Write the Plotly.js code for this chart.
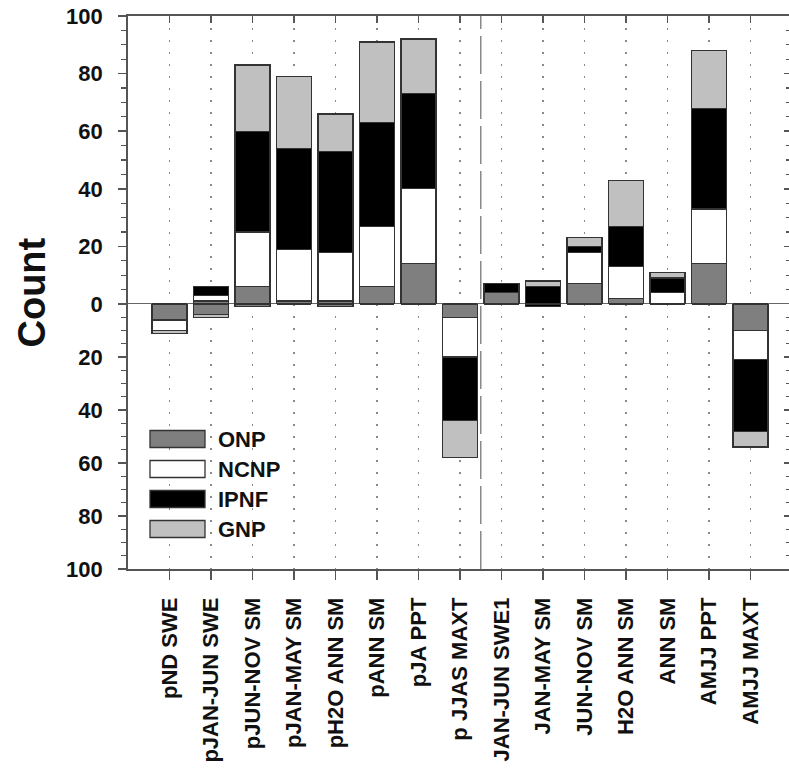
<!DOCTYPE html>
<html>
<head>
<meta charset="utf-8">
<script src="https://cdn.plot.ly/plotly-3.0.1.min.js"></script>
<style>
html,body{margin:0;padding:0;background:#fff;overflow:hidden;}
#chart{width:792px;height:768px;}
</style>
</head>
<body>
<div id="chart"></div>
<script>
// ---- data ----
const categories = ['pND SWE','pJAN-JUN SWE','pJUN-NOV SM','pJAN-MAY SM','pH2O ANN SM','pANN SM','pJA PPT','p JJAS MAXT','JAN-JUN SWE1','JAN-MAY SM','JUN-NOV SM','H2O ANN SM','ANN SM','AMJJ PPT','AMJJ MAXT'];
const seriesNames = ['ONP','NCNP','IPNF','GNP'];
// counts above zero
const onpPos  = [0,1,6,1,1,6,14,0,4,0,7,2,0,14,0];
const ncnpPos = [0,2,19,18,17,21,26,0,0,0,11,11,4,19,0];
const ipnfPos = [0,3,35,35,35,36,33,0,3,6,2,14,5,35,0];
const gnpPos  = [0,0,23,25,13,28,19,0,0,2,3,16,2,20,0];
// counts below zero (magnitudes)
const onpNeg  = [6,4,1,0,1,0,0,5,0,0,0,0,0,0,10];
const ncnpNeg = [4,0,0,0,0,0,0,15,0,0,0,0,0,0,11];
const ipnfNeg = [0,0,0,0,0,0,0,24,0,1,0,0,0,0,27];
const gnpNeg  = [1,1,0,0,0,0,0,14,0,0,0,0,0,0,6];
const posTicks = [0,20,40,60,80,100];
const negTicks = [20,40,60,80,100];

// ---- styling ----
const colors = ['#7f7f7f','#ffffff','#000000','#c0c0c0'];
const W=792, H=768, L=128, R=0, T=16, B=199;
const pw = W-L-R, ph = H-T-B;
const topFrac = 288/553;
const split = 1-topFrac;
const FONT = 'Liberation Sans, Arial, sans-serif';
const axisCol = '#555555';
const xs = categories.map((c,i)=>i);

const posData = [onpPos,ncnpPos,ipnfPos,gnpPos];
const negData = [onpNeg,ncnpNeg,ipnfNeg,gnpNeg];
const traces = [];
posData.forEach((arr,k)=>{
  traces.push({type:'bar', x:xs, y:arr, name:seriesNames[k], xaxis:'x', yaxis:'y',
    width:0.84, marker:{color:colors[k], line:{color:'#333333', width:1.3}}, showlegend:false, hoverinfo:'skip'});
});
negData.forEach((arr,k)=>{
  traces.push({type:'bar', x:xs, y:arr, name:seriesNames[k], xaxis:'x', yaxis:'y2',
    width:0.84, marker:{color:colors[k], line:{color:'#333333', width:1.3}}, showlegend:false, hoverinfo:'skip'});
});
// empty helper traces so the frame axes (top / right ticks) get drawn
[['x2','y'],['x','y3'],['x','y4']].forEach(([xa,ya])=>{
  traces.push({type:'scatter', mode:'markers', x:[null], y:[null], xaxis:xa, yaxis:ya, showlegend:false, hoverinfo:'skip'});
});

const tickFont = {family:FONT, size:22, color:'#111', weight:'bold'};
const px2x = p => (p-L)/pw;
const py2y = p => (H-B-p)/ph;

const shapes = [
  {type:'line', xref:'paper', x0:0, x1:1, yref:'y', y0:0, y1:0, line:{color:'#333', width:1.6}},
  {type:'line', xref:'x', x0:7.5, x1:7.5, yref:'paper', y0:0, y1:1, line:{color:'#888', width:1.5, dash:'38px,7px'}}
];
const annotations = [
  {text:'Count', xref:'paper', yref:'paper', x:px2x(31), y:0.5, xanchor:'center', yanchor:'middle', textangle:-90, showarrow:false,
   font:{family:FONT, size:38, color:'#111', weight:'bold'}}
];
const legendRows = [439,469,499,529];
seriesNames.forEach((n,k)=>{
  const c = legendRows[k];
  shapes.push({type:'rect', xref:'paper', yref:'paper', x0:px2x(150), x1:px2x(205), y0:py2y(c+8.5), y1:py2y(c-8.5),
    fillcolor:colors[k], line:{color:'#333', width:1.3}});
  annotations.push({text:n, xref:'paper', yref:'paper', x:px2x(216), y:py2y(c), xanchor:'left', yanchor:'middle', showarrow:false,
    font:{family:FONT, size:22, color:'#111', weight:'bold'}});
});

const gridDash = '2px,10px';
const layout = {
  width:W, height:H, margin:{l:L, r:R, t:T, b:B, pad:0},
  paper_bgcolor:'#fff', plot_bgcolor:'#fff',
  barmode:'stack', showlegend:false,
  xaxis:{range:[-1,15], anchor:'y2', tickmode:'array', tickvals:xs, ticktext:categories, tickangle:-90,
    showline:true, linecolor:axisCol, linewidth:1.8, ticks:'outside', ticklen:9, tickwidth:1.5, tickcolor:axisCol,
    showgrid:true, gridcolor:'#8a8a8a', griddash:gridDash, gridwidth:1.6, zeroline:false,
    tickfont:tickFont, ticklabelstandoff:9, fixedrange:true},
  xaxis2:{range:[-1,15], overlaying:'x', anchor:'y', side:'top', tickmode:'array', tickvals:xs, showticklabels:false,
    showline:true, linecolor:axisCol, linewidth:1.8, ticks:'inside', ticklen:7, tickwidth:1.5, tickcolor:axisCol,
    showgrid:false, zeroline:false},
  yaxis:{domain:[split,1], range:[0,100], anchor:'x', tickmode:'array', tickvals:posTicks, ticktext:posTicks.map(String),
    showline:true, linecolor:axisCol, linewidth:1.8, ticks:'outside', ticklen:8, tickwidth:1.5, tickcolor:axisCol,
    minor:{dtick:5, ticks:'outside', ticklen:5, tickwidth:1.2, tickcolor:axisCol, showgrid:false},
    showgrid:false, zeroline:false, tickfont:tickFont, ticklabelstandoff:11},
  yaxis2:{domain:[0,split], range:[100,0], anchor:'x', tickmode:'array', tickvals:negTicks, ticktext:negTicks.map(String),
    showline:true, linecolor:axisCol, linewidth:1.8, ticks:'outside', ticklen:8, tickwidth:1.5, tickcolor:axisCol,
    minor:{dtick:5, ticks:'outside', ticklen:5, tickwidth:1.2, tickcolor:axisCol, showgrid:false},
    showgrid:false, zeroline:false, tickfont:tickFont, ticklabelstandoff:11},
  yaxis3:{overlaying:'y', side:'right', anchor:'x', range:[0,100], tickmode:'array', tickvals:posTicks, showticklabels:false,
    ticks:'inside', ticklen:8, tickwidth:1.5, tickcolor:axisCol, showline:false, showgrid:false, zeroline:false,
    minor:{dtick:5, ticks:'inside', ticklen:6, tickwidth:1.2, tickcolor:axisCol, showgrid:false}},
  yaxis4:{overlaying:'y2', side:'right', anchor:'x', range:[100,0], tickmode:'array', tickvals:negTicks, showticklabels:false,
    ticks:'inside', ticklen:8, tickwidth:1.5, tickcolor:axisCol, showline:false, showgrid:false, zeroline:false,
    minor:{dtick:5, ticks:'inside', ticklen:6, tickwidth:1.2, tickcolor:axisCol, showgrid:false}},
  shapes:shapes, annotations:annotations
};
Plotly.newPlot('chart', traces, layout, {staticPlot:true, displayModeBar:false});
</script>
</body>
</html>
